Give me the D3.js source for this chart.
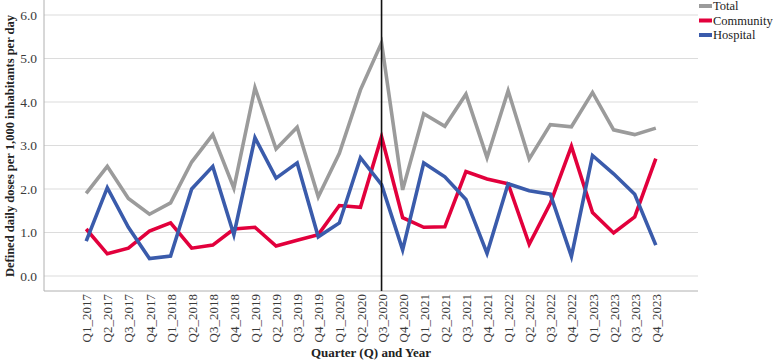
<!DOCTYPE html>
<html lang="en">
<head>
<meta charset="utf-8">
<title>Defined daily doses per quarter</title>
<script src="https://d3js.org/d3.v7.min.js"></script>
<style>
  body { margin: 0; background: #fff; }
  svg text { font-family: "Liberation Serif", "Times New Roman", serif; }
  .tick text { fill: #3a3a3a; }
</style>
</head>
<body>
<script>
const quarters = ["Q1_2017","Q2_2017","Q3_2017","Q4_2017","Q1_2018","Q2_2018","Q3_2018","Q4_2018",
  "Q1_2019","Q2_2019","Q3_2019","Q4_2019","Q1_2020","Q2_2020","Q3_2020","Q4_2020",
  "Q1_2021","Q2_2021","Q3_2021","Q4_2021","Q1_2022","Q2_2022","Q3_2022","Q4_2022",
  "Q1_2023","Q2_2023","Q3_2023","Q4_2023"];

const total = [1.90, 2.52, 1.78, 1.42, 1.68, 2.62, 3.25, 2.02,
  4.33, 2.92, 3.42, 1.82, 2.82, 4.28, 5.36, 1.98,
  3.73, 3.44, 4.18, 2.72, 4.26, 2.69, 3.48, 3.43,
  4.22, 3.36, 3.25, 3.40];
const community = [1.08, 0.51, 0.64, 1.03, 1.22, 0.64, 0.71, 1.08,
  1.12, 0.69, 0.82, 0.95, 1.62, 1.58, 3.20, 1.34,
  1.12, 1.13, 2.40, 2.23, 2.12, 0.73, 1.67, 2.98,
  1.46, 0.99, 1.36, 2.70];
const hospital = [0.80, 2.03, 1.12, 0.40, 0.46, 2.00, 2.52, 0.95,
  3.18, 2.25, 2.60, 0.90, 1.22, 2.72, 2.10, 0.60,
  2.60, 2.28, 1.76, 0.52, 2.12, 1.96, 1.88, 0.45,
  2.77, 2.35, 1.88, 0.71];

const yTicks = [0, 1, 2, 3, 4, 5, 6];
const marker = "Q3_2020";

const series = [
  {name: "Total", values: total, color: "#9b9b9b"},
  {name: "Community", values: community, color: "#e2003c"},
  {name: "Hospital", values: hospital, color: "#3a5bab"}
];

const width = 773, height = 361;
const plotLeft = 44, plotRight = 698, plotTop = 0, plotBottom = 291;

const svg = d3.select("body").append("svg")
  .attr("width", width)
  .attr("height", height);

const x = d3.scalePoint()
  .domain(quarters)
  .range([plotLeft, plotRight])
  .padding(2);

const y = d3.scaleLinear()
  .domain([0, 6])
  .range([276, 15]);

// grid lines
svg.append("g")
  .selectAll("line")
  .data(yTicks)
  .join("line")
  .attr("x1", plotLeft).attr("x2", plotRight)
  .attr("y1", d => y(d)).attr("y2", d => y(d))
  .attr("stroke", "#dcdcdc")
  .attr("stroke-width", 1.2);

// y axis
const yAxis = svg.append("g")
  .attr("transform", "translate(" + plotLeft + ",0)")
  .call(d3.axisLeft(y).tickValues(yTicks).tickFormat(d3.format(".1f")).tickSize(0).tickPadding(7));
yAxis.select(".domain").remove();
yAxis.selectAll("text").attr("font-size", 13.5);

// x axis
const xAxis = svg.append("g")
  .attr("transform", "translate(0," + plotBottom + ")")
  .call(d3.axisBottom(x).tickSize(0).tickPadding(0));
xAxis.select(".domain").remove();
xAxis.selectAll("text")
  .attr("font-size", 13)
  .attr("text-anchor", "end")
  .attr("dy", "0.35em")
  .attr("transform", "translate(0,3) rotate(-90)")
  .attr("x", 0).attr("y", 0);

// frame (left and bottom)
svg.append("line")
  .attr("x1", plotLeft).attr("x2", plotLeft).attr("y1", plotTop).attr("y2", plotBottom)
  .attr("stroke", "#b0b0b0").attr("stroke-width", 1);
svg.append("line")
  .attr("x1", plotLeft).attr("x2", plotRight).attr("y1", plotBottom).attr("y2", plotBottom)
  .attr("stroke", "#b0b0b0").attr("stroke-width", 1);

// series lines
const line = d3.line()
  .x((d, i) => x(quarters[i]))
  .y(d => y(d));

svg.append("g")
  .selectAll("path")
  .data(series)
  .join("path")
  .attr("d", d => line(d.values))
  .attr("fill", "none")
  .attr("stroke", d => d.color)
  .attr("stroke-width", 3.6)
  .attr("stroke-linejoin", "miter");

// reference line
svg.append("line")
  .attr("x1", x(marker)).attr("x2", x(marker))
  .attr("y1", plotTop).attr("y2", plotBottom)
  .attr("stroke", "#111").attr("stroke-width", 1.6);

// legend
const legend = svg.append("g")
  .selectAll("g")
  .data(series)
  .join("g")
  .attr("transform", (d, i) => "translate(699," + (6 + i * 14.5) + ")");
legend.append("rect")
  .attr("x", 0).attr("y", -2).attr("width", 13).attr("height", 4)
  .attr("fill", d => d.color);
legend.append("text")
  .attr("x", 14).attr("y", 0).attr("dy", "0.35em")
  .attr("font-size", 12.5)
  .attr("fill", "#222")
  .text(d => d.name);

// axis titles
svg.append("text")
  .attr("x", 371).attr("y", 357)
  .attr("text-anchor", "middle")
  .attr("font-size", 13)
  .attr("font-weight", "bold")
  .attr("fill", "#222")
  .text("Quarter (Q) and Year");

svg.append("text")
  .attr("transform", "translate(10,146) rotate(-90)")
  .attr("text-anchor", "middle")
  .attr("dy", "0.35em")
  .attr("font-size", 12.5)
  .attr("font-weight", "bold")
  .attr("fill", "#222")
  .text("Defined daily doses per 1,000 inhabitants per day");
</script>
</body>
</html>
